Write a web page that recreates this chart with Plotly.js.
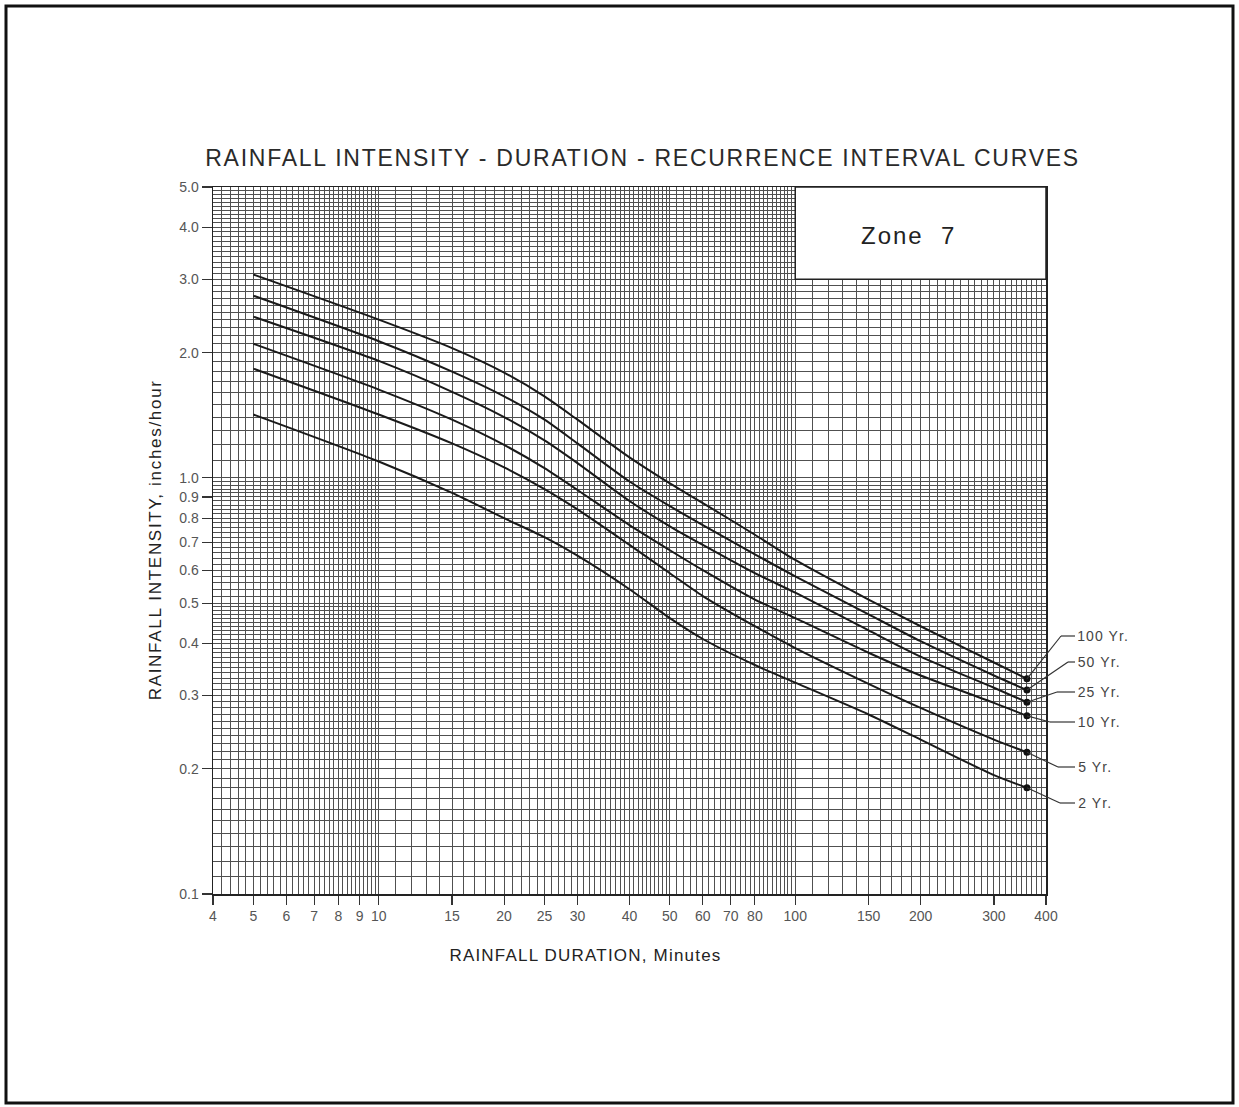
<!DOCTYPE html>
<html><head><meta charset="utf-8">
<script src="https://cdn.plot.ly/plotly-3.0.1.min.js"></script>
<style>
html,body{margin:0;padding:0;background:#fff;}
#chart{width:1239px;height:1107px;}
.annotation text{letter-spacing:1.1px;}
.annotation[data-index="0"] text{letter-spacing:1.75px;}
.annotation[data-index="1"] text{letter-spacing:2px;}
.annotation[data-index="2"] text{letter-spacing:1.2px;}
.annotation[data-index="3"] text{letter-spacing:1.7px;}
</style>
</head><body><div id="chart"></div>
<script>
// ---------- DATA ----------
const durations = [5, 10, 15, 20, 25, 30, 40, 50, 60, 80, 100, 150, 200, 300, 360];
const yr100 = [3.08, 2.40, 2.05, 1.79, 1.57, 1.38, 1.12, 0.97, 0.87, 0.73, 0.635, 0.51, 0.44, 0.36, 0.329];
const yr50  = [2.74, 2.13, 1.80, 1.57, 1.38, 1.21, 0.98, 0.855, 0.77, 0.655, 0.58, 0.47, 0.405, 0.335, 0.309];
const yr25  = [2.44, 1.91, 1.61, 1.40, 1.23, 1.085, 0.88, 0.765, 0.69, 0.59, 0.53, 0.43, 0.372, 0.313, 0.289];
const yr10  = [2.10, 1.63, 1.38, 1.20, 1.055, 0.935, 0.77, 0.67, 0.60, 0.51, 0.46, 0.38, 0.335, 0.288, 0.268];
const yr5   = [1.83, 1.42, 1.21, 1.06, 0.94, 0.84, 0.69, 0.59, 0.52, 0.44, 0.39, 0.32, 0.28, 0.235, 0.219];
const yr2   = [1.42, 1.095, 0.92, 0.80, 0.72, 0.65, 0.54, 0.46, 0.41, 0.355, 0.322, 0.27, 0.235, 0.193, 0.18];
const seriesNames = ['100 Yr.', '50 Yr.', '25 Yr.', '10 Yr.', '5 Yr.', '2 Yr.'];
const seriesValues = [yr100, yr50, yr25, yr10, yr5, yr2];

const xTickVals = [4, 5, 6, 7, 8, 9, 10, 15, 20, 25, 30, 40, 50, 60, 70, 80, 100, 150, 200, 300, 400];
const xTickText = ['4','5','6','7','8','9','10','15','20','25','30','40','50','60','70','80','100','150','200','300','400'];
const yTickVals = [0.1, 0.2, 0.3, 0.4, 0.5, 0.6, 0.7, 0.8, 0.9, 1.0, 2.0, 3.0, 4.0, 5.0];
const yTickText = ['0.1','0.2','0.3','0.4','0.5','0.6','0.7','0.8','0.9','1.0','2.0','3.0','4.0','5.0'];

// grid subdivisions: [start, end, step]
const xGridBands = [[4, 10, 0.2], [10, 50, 1], [50, 100, 2], [100, 400, 10]];
const yGridBands = [[0.1, 0.5, 0.01], [0.5, 1.0, 0.02], [1.0, 5.0, 0.1]];

// ---------- LAYOUT CONSTANTS ----------
const W = 1239, H = 1107;
const ML = 213, MR = 193, MT = 187, MB = 213;
const PW = W - ML - MR, PH = H - MT - MB;
const FONT = 'Liberation Sans, DejaVu Sans, Arial, sans-serif';
const XR = [Math.log10(4), Math.log10(400)];
const YR = [-1, Math.log10(5)];
const GRID = '#505050';

function buildGrid(bands, exclude) {
  const out = [];
  bands.forEach(([a, b, s]) => {
    const n = Math.round((b - a) / s);
    for (let i = 0; i <= n; i++) {
      const v = Math.round((a + i * s) * 1000) / 1000;
      if (!out.includes(v) && !exclude.includes(v)) out.push(v);
    }
  });
  return out;
}
const xGrid = buildGrid(xGridBands, xTickVals);
const yGrid = buildGrid(yGridBands, yTickVals);

const xp = v => (Math.log10(v) - XR[0]) / (XR[1] - XR[0]);
const yp = v => (Math.log10(v) - YR[0]) / (YR[1] - YR[0]);
const px2x = px => (px - ML) / PW;
const py2y = py => (MT + PH - py) / PH;

// label placement (pixels): label y, elbow x
const labelPy = [636, 662, 692, 722, 767, 803];
const elbowPx = [1061, 1068, 1057, 1050, 1058, 1060];
const lineEndPx = 1075, labelPx = 1079;

// ---------- TRACES ----------
const traces = seriesValues.map((vals, i) => ({
  type: 'scatter', mode: 'lines', x: durations, y: vals, name: seriesNames[i],
  line: {color: '#1a1a1a', width: 2, shape: 'spline', smoothing: 0.7},
  hoverinfo: 'skip', showlegend: false
}));
traces.push({
  type: 'scatter', mode: 'markers',
  x: seriesValues.map(() => durations[durations.length - 1]),
  y: seriesValues.map(v => v[v.length - 1]),
  marker: {color: '#111', size: 7}, hoverinfo: 'skip', showlegend: false
});
traces.push({type: 'scatter', x: [], y: [], xaxis: 'x2', yaxis: 'y2', showlegend: false, hoverinfo: 'skip'});

// ---------- SHAPES & ANNOTATIONS ----------
const shapes = [];
const annotations = [];

annotations.push({xref: 'paper', yref: 'paper', x: px2x(642), y: py2y(158), xanchor: 'center', yanchor: 'middle',
  text: 'RAINFALL INTENSITY - DURATION - RECURRENCE INTERVAL CURVES', showarrow: false,
  font: {family: FONT, size: 23, color: '#2a2a2a'}});
annotations.push({xref: 'paper', yref: 'paper', x: px2x(908), y: py2y(236), xanchor: 'center', yanchor: 'middle',
  text: 'Zone  7', showarrow: false, font: {family: FONT, size: 24, color: '#222'}});
annotations.push({xref: 'paper', yref: 'paper', x: px2x(585), y: py2y(955), xanchor: 'center', yanchor: 'middle',
  text: 'RAINFALL DURATION, Minutes', showarrow: false, font: {family: FONT, size: 17, color: '#222'}});
annotations.push({xref: 'paper', yref: 'paper', x: px2x(155), y: py2y(540), xanchor: 'center', yanchor: 'middle',
  text: 'RAINFALL INTENSITY, inches/hour', textangle: -90, showarrow: false, font: {family: FONT, size: 17, color: '#222'}});

// zone box
shapes.push({type: 'rect', xref: 'paper', yref: 'paper', x0: xp(100), x1: 1, y0: yp(3), y1: 1,
  fillcolor: '#fff', line: {color: '#222', width: 1.5}, layer: 'above'});

// leaders and labels
seriesValues.forEach((vals, i) => {
  const x0 = xp(durations[durations.length - 1]);
  const y0 = yp(vals[vals.length - 1]);
  const ye = py2y(labelPy[i]);
  shapes.push({type: 'line', xref: 'paper', yref: 'paper', x0: x0, y0: y0, x1: px2x(elbowPx[i]), y1: ye,
    line: {color: '#333', width: 1.2}, layer: 'above'});
  shapes.push({type: 'line', xref: 'paper', yref: 'paper', x0: px2x(elbowPx[i]), y0: ye, x1: px2x(lineEndPx), y1: ye,
    line: {color: '#333', width: 1.2}, layer: 'above'});
  annotations.push({xref: 'paper', yref: 'paper', x: px2x(labelPx), y: ye, xanchor: 'left', yanchor: 'middle',
    text: seriesNames[i], showarrow: false, font: {family: FONT, size: 14, color: '#444'}});
});

// outer frame
shapes.push({type: 'rect', xref: 'paper', yref: 'paper', x0: px2x(6), x1: px2x(1233), y0: py2y(1103), y1: py2y(6),
  line: {color: '#111', width: 3}, layer: 'above'});

const layout = {
  width: W, height: H,
  margin: {l: ML, r: MR, t: MT, b: MB, pad: 0},
  paper_bgcolor: '#fff', plot_bgcolor: '#fff',
  showlegend: false,
  xaxis: {type: 'log', range: XR, tickmode: 'array', tickvals: xTickVals, ticktext: xTickText,
    ticks: 'outside', ticklen: 9, tickwidth: 1.2, tickcolor: '#333',
    showgrid: true, gridcolor: GRID, gridwidth: 1,
    showline: true, linecolor: '#222', linewidth: 1.5, mirror: true, zeroline: false,
    tickfont: {family: FONT, size: 14, color: '#555'}, fixedrange: true},
  yaxis: {type: 'log', range: YR, tickmode: 'array', tickvals: yTickVals, ticktext: yTickText,
    ticks: 'outside', ticklen: 10, tickwidth: 1.2, tickcolor: '#333',
    showgrid: true, gridcolor: GRID, gridwidth: 1,
    showline: true, linecolor: '#222', linewidth: 1.5, mirror: true, zeroline: false,
    tickfont: {family: FONT, size: 14, color: '#555'}, fixedrange: true},
  xaxis2: {type: 'log', range: XR, overlaying: 'x', anchor: 'y2', tickmode: 'array', tickvals: xGrid,
    showticklabels: false, ticks: '', showgrid: true, gridcolor: GRID, gridwidth: 1,
    showline: false, zeroline: false, fixedrange: true},
  yaxis2: {type: 'log', range: YR, overlaying: 'y', anchor: 'x2', tickmode: 'array', tickvals: yGrid,
    showticklabels: false, ticks: '', showgrid: true, gridcolor: GRID, gridwidth: 1,
    showline: false, zeroline: false, fixedrange: true},
  shapes: shapes,
  annotations: annotations
};

Plotly.newPlot('chart', traces, layout, {staticPlot: true, displayModeBar: false});
</script>
</body></html>
